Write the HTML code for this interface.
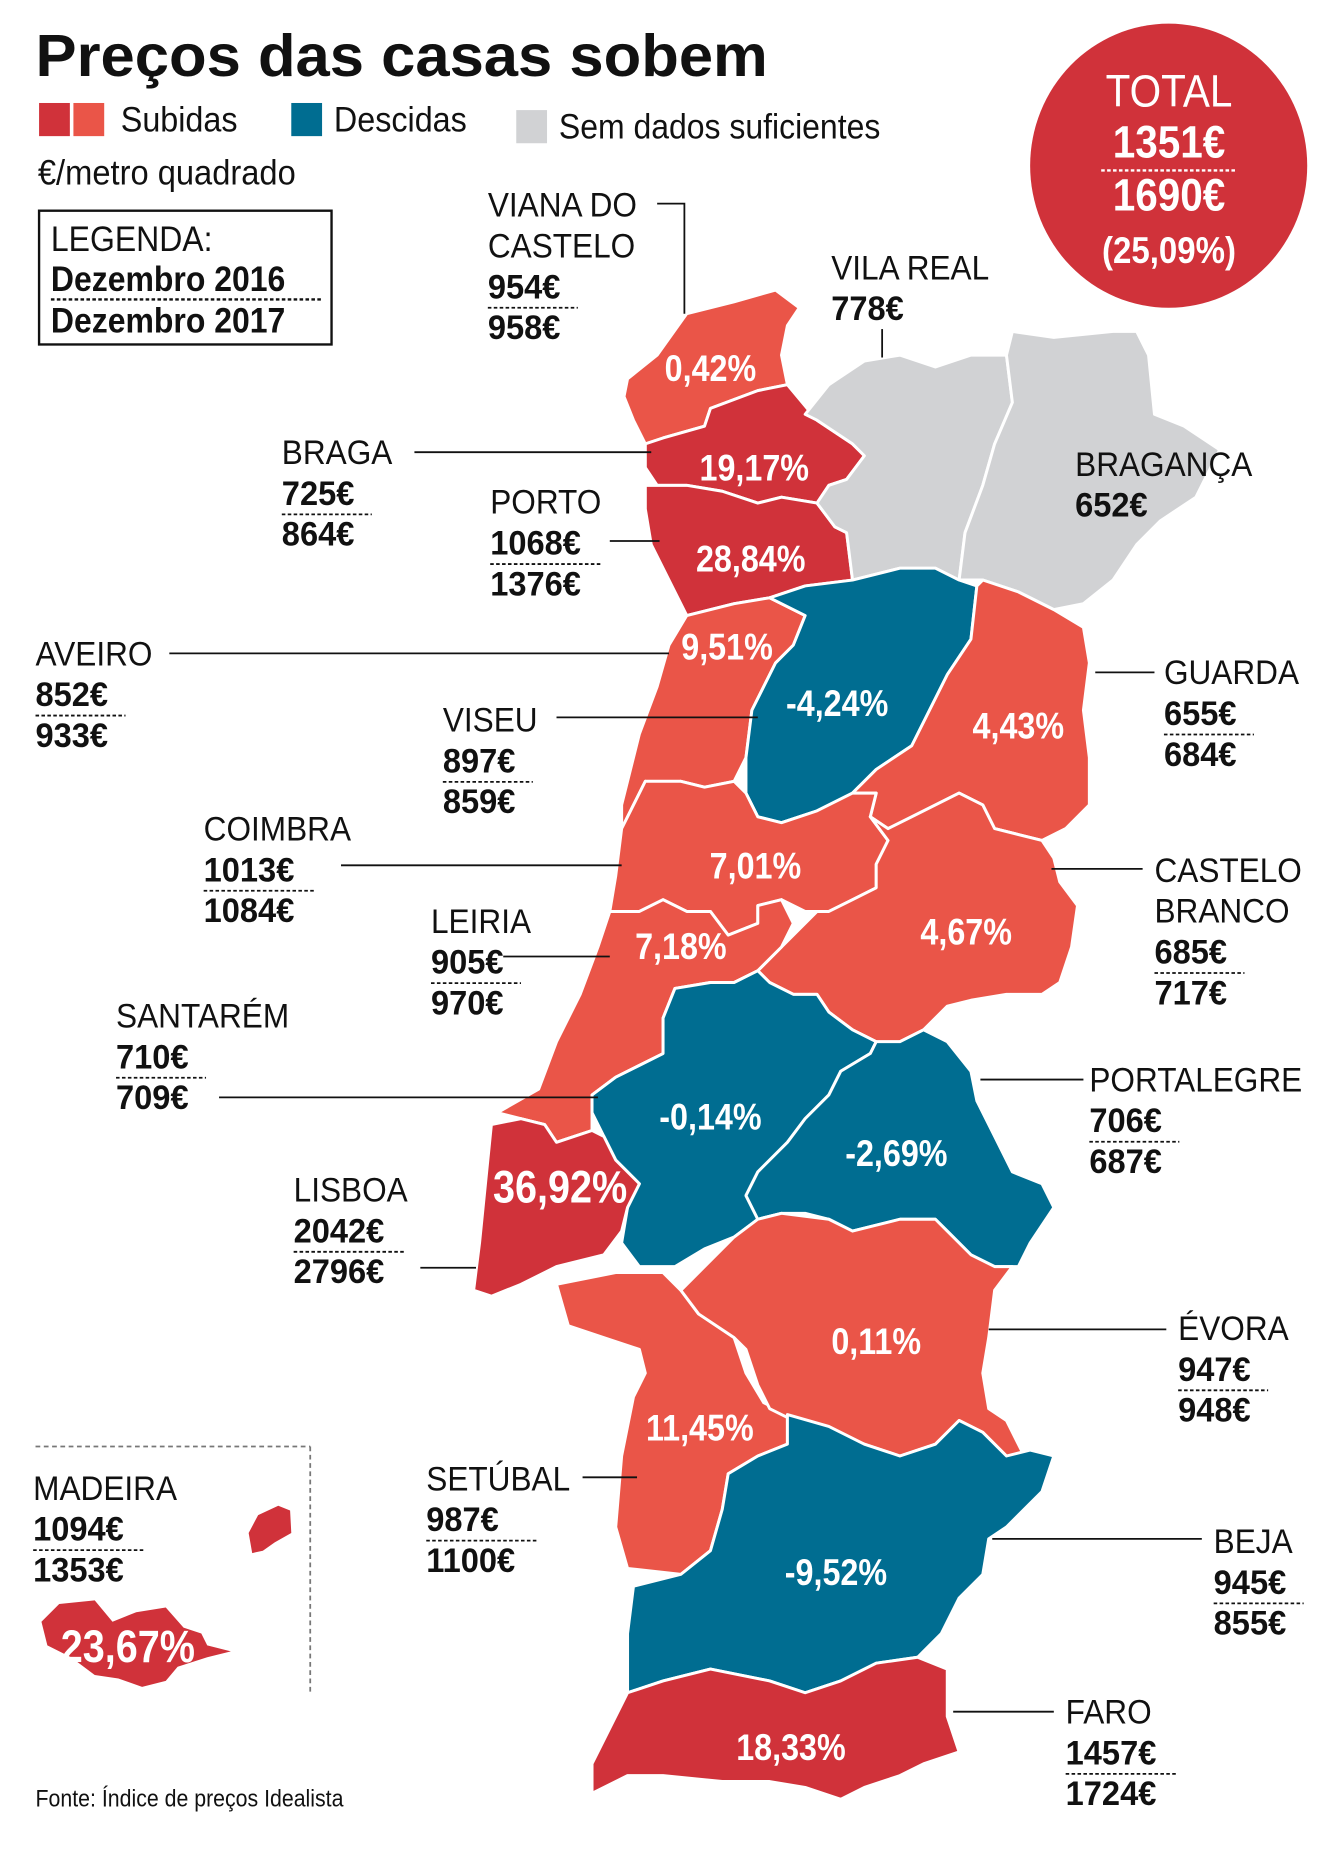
<!DOCTYPE html>
<html><head><meta charset="utf-8"><style>
html,body{margin:0;padding:0;background:#fff}
svg{display:block}
text{font-family:"Liberation Sans",sans-serif}
</style></head><body>
<svg id="chart" width="1338" height="1849" viewBox="0 0 1130 1562" preserveAspectRatio="none" xmlns="http://www.w3.org/2000/svg">
<text transform="translate(30,64) scale(1.04,1)" font-size="50" font-weight="bold" fill="#111">Preços das casas sobem</text>
<rect x="33" y="87" width="26" height="28" fill="#d0323a"/>
<rect x="62" y="87" width="26" height="28" fill="#ea5548"/>
<text transform="translate(102,111) scale(0.91,1)" font-size="30" fill="#111">Subidas</text>
<rect x="246" y="87" width="26" height="28" fill="#006d91"/>
<text transform="translate(282,111) scale(0.91,1)" font-size="30" fill="#111">Descidas</text>
<rect x="436" y="93" width="26" height="28" fill="#d1d2d4"/>
<text transform="translate(472,117) scale(0.9,1)" font-size="30" fill="#111">Sem dados suficientes</text>
<text transform="translate(32,156) scale(0.92,1)" font-size="30" fill="#111">€/metro quadrado</text>
<g>
<rect x="33" y="178" width="247" height="113" fill="none" stroke="#111" stroke-width="2"/>
<text transform="translate(43,212) scale(0.9,1)" font-size="30" fill="#111">LEGENDA:</text>
<text transform="translate(43,246) scale(0.9,1)" font-size="30" font-weight="bold" fill="#111">Dezembro 2016</text>
<line x1="43" y1="253" x2="272" y2="253" stroke="#111" stroke-width="2" stroke-dasharray="3,2"/>
<text transform="translate(43,281) scale(0.9,1)" font-size="30" font-weight="bold" fill="#111">Dezembro 2017</text>
</g>
<g>
<ellipse cx="987" cy="140" rx="117" ry="120" fill="#d0323a"/>
<text x="987" y="90" text-anchor="middle" font-size="38" fill="#fff" transform="translate(99,0) scale(0.9,1)">TOTAL</text>
<text x="987" y="133" text-anchor="middle" font-size="38" font-weight="bold" fill="#fff" transform="translate(99,0) scale(0.9,1)">1351€</text>
<line x1="930" y1="144" x2="1044" y2="144" stroke="#fff" stroke-width="2" stroke-dasharray="3,2"/>
<text x="987" y="178" text-anchor="middle" font-size="38" font-weight="bold" fill="#fff" transform="translate(99,0) scale(0.9,1)">1690€</text>
<text x="987" y="222" text-anchor="middle" font-size="31" font-weight="bold" fill="#fff" transform="translate(99,0) scale(0.9,1)">(25,09%)</text>
</g>
<g id="map" stroke="#fff" stroke-width="2.5" stroke-linejoin="round">
<polygon fill="#ea5548" points="530,320 555,300 580,265 620,255 655,245 675,260 665,275 660,300 665,325 640,330 600,345 595,360 560,370 545,375 535,355 527,335"/>
<polygon fill="#d0323a" points="600,345 640,330 665,325 690,355 720,375 730,385 715,405 700,410 690,425 660,420 640,425 610,415 580,410 555,410 545,395 545,375 560,370 595,360"/>
<polygon fill="#d0323a" points="545,410 580,410 610,415 640,425 660,420 690,425 705,445 715,450 720,490 680,495 650,505 620,510 580,520 570,500 550,460 545,430"/>
<polygon fill="#d1d2d4" points="680,350 700,325 730,305 760,300 790,310 820,300 850,300 855,340 840,375 830,410 815,450 810,490 790,480 760,480 720,490 715,450 705,445 690,425 700,410 715,405 730,385 720,375 690,355"/>
<polygon fill="#d1d2d4" points="850,300 855,280 890,285 940,280 960,280 970,300 975,350 1000,360 1030,380 1010,420 980,440 960,460 940,490 915,510 890,515 860,500 830,490 810,490 815,450 830,410 840,375 855,340"/>
<polygon fill="#ea5548" points="580,520 620,510 650,505 680,520 670,545 655,560 645,580 635,600 630,640 620,660 595,665 575,660 560,665 545,660 535,680 525,700 525,680 540,620 555,580 565,545"/>
<polygon fill="#006d91" points="650,505 680,495 720,490 760,480 790,480 810,490 825,495 820,540 800,570 785,600 770,630 740,650 720,670 690,685 660,695 640,690 630,670 630,640 635,600 645,580 655,560 670,545 680,520"/>
<polygon fill="#ea5548" points="825,495 830,490 860,500 890,515 915,530 920,560 915,600 920,640 920,680 900,700 880,710 860,705 840,700 830,680 810,670 790,680 770,690 750,700 735,690 740,670 720,670 740,650 770,630 785,600 800,570 820,540"/>
<polygon fill="#ea5548" points="525,700 535,680 545,660 575,660 595,665 620,660 630,670 640,690 660,695 690,685 720,670 740,670 735,690 750,710 740,730 740,750 720,760 700,770 680,770 660,760 640,765 640,780 615,790 600,770 580,770 560,760 540,770 515,770 520,740"/>
<polygon fill="#ea5548" points="735,690 750,700 770,690 790,680 810,670 830,680 840,700 860,705 880,710 890,725 895,745 910,765 905,800 895,830 880,840 850,840 820,845 800,850 780,870 760,880 740,880 720,870 700,855 690,840 670,840 650,830 640,820 660,800 690,770 700,770 720,760 740,750 740,730 750,710"/>
<polygon fill="#ea5548" points="515,770 540,770 560,760 580,770 600,770 615,790 640,780 640,765 660,760 670,780 660,800 640,820 620,830 600,830 570,835 560,860 560,890 540,900 520,910 500,925 500,955 470,965 460,950 440,945 420,940 455,920 470,880 490,840 505,800"/>
<polygon fill="#006d91" points="570,835 600,830 620,830 640,820 650,830 670,840 690,840 700,855 720,870 740,880 735,890 710,905 700,925 680,945 665,965 640,990 630,1010 640,1030 620,1045 595,1055 570,1070 540,1070 525,1050 530,1020 540,1000 520,980 510,960 500,940 500,925 520,910 540,900 560,890 560,860"/>
<polygon fill="#006d91" points="740,880 760,880 780,870 800,880 820,905 825,930 840,960 855,990 880,1000 890,1020 870,1050 860,1070 840,1070 820,1060 800,1040 790,1030 760,1030 720,1040 700,1030 680,1025 660,1025 640,1030 630,1010 640,990 665,965 680,945 700,925 710,905 735,890"/>
<polygon fill="#d0323a" points="415,950 440,945 460,950 470,965 500,955 510,960 520,980 540,1000 530,1020 525,1040 510,1060 490,1065 470,1070 440,1085 415,1095 400,1090 405,1050 410,1000"/>
<polygon fill="#ea5548" points="470,1085 520,1075 560,1075 575,1090 590,1110 620,1130 630,1160 645,1185 665,1195 665,1220 640,1230 615,1245 610,1275 600,1310 575,1330 530,1325 520,1290 525,1230 535,1180 545,1160 540,1140 510,1130 480,1120"/>
<polygon fill="#ea5548" points="575,1090 595,1070 620,1045 640,1030 660,1025 700,1030 720,1040 760,1030 790,1030 800,1040 820,1060 840,1070 855,1070 840,1090 835,1130 830,1160 835,1190 850,1200 865,1230 850,1230 830,1210 810,1200 790,1220 760,1230 730,1220 700,1210 670,1200 650,1190 640,1170 630,1140 620,1130 590,1110"/>
<polygon fill="#006d91" points="665,1195 700,1205 730,1220 760,1230 790,1220 810,1200 830,1210 850,1230 870,1225 890,1230 880,1260 860,1280 850,1290 835,1300 830,1330 810,1350 795,1380 775,1400 740,1405 710,1420 680,1430 650,1420 600,1410 560,1420 530,1430 530,1380 535,1340 575,1330 600,1310 610,1275 615,1245 640,1230 665,1220"/>
<polygon fill="#d0323a" points="530,1430 560,1420 600,1410 650,1420 680,1430 710,1420 740,1405 775,1400 800,1410 800,1450 810,1480 780,1490 760,1500 730,1510 710,1520 680,1510 650,1505 610,1505 560,1500 530,1500 500,1515 500,1490 515,1460"/>
<polygon fill="#d0323a" stroke="none" points="35,1370 50,1355 80,1352 95,1370 115,1362 140,1358 155,1375 170,1380 175,1390 195,1395 175,1400 150,1408 140,1420 120,1425 100,1418 80,1415 60,1400 40,1390"/>
<polygon fill="#d0323a" stroke="none" points="210,1295 218,1280 235,1272 245,1276 246,1295 232,1303 222,1310 213,1312"/>
</g>
<g stroke="#777" stroke-width="1.5" stroke-dasharray="4,3" fill="none">
<line x1="30" y1="1222" x2="262" y2="1222"/><line x1="262" y1="1222" x2="262" y2="1432"/>
</g>
<g id="leaders" stroke="#111" stroke-width="1.5" fill="none">
<polyline points="555,172 578,172 578,265"/><line x1="745" y1="278" x2="745" y2="302"/>
<line x1="350" y1="382" x2="550" y2="382"/><line x1="515" y1="457" x2="557" y2="457"/>
<line x1="143" y1="552" x2="565" y2="552"/><line x1="470" y1="606" x2="640" y2="606"/>
<line x1="925" y1="568" x2="975" y2="568"/><line x1="288" y1="731" x2="525" y2="731"/>
<line x1="888" y1="734" x2="965" y2="734"/><line x1="425" y1="808" x2="515" y2="808"/>
<line x1="185" y1="927" x2="505" y2="927"/><line x1="828" y1="912" x2="915" y2="912"/>
<line x1="355" y1="1071" x2="402" y2="1071"/><line x1="835" y1="1123" x2="985" y2="1123"/>
<line x1="492" y1="1248" x2="538" y2="1248"/><line x1="838" y1="1300" x2="1015" y2="1300"/>
<line x1="805" y1="1446" x2="890" y2="1446"/>
</g>
<g id="labels"></g>
<g id="pcts"></g>
<text transform="translate(30,1526) scale(0.9,1)" font-size="20" fill="#111">Fonte: Índice de preços Idealista</text>
</svg>
<script>
// data
const districtNames = [["VIANA DO","CASTELO"],["VILA REAL"],["BRAGANÇA"],["BRAGA"],["PORTO"],["AVEIRO"],["VISEU"],["GUARDA"],["COIMBRA"],["CASTELO","BRANCO"],["LEIRIA"],["SANTARÉM"],["PORTALEGRE"],["LISBOA"],["ÉVORA"],["SETÚBAL"],["BEJA"],["FARO"],["MADEIRA"]];
const price2016 = [954,778,652,725,1068,852,897,655,1013,685,905,710,706,2042,947,987,945,1457,1094];
const price2017 = [958,null,null,864,1376,933,859,684,1084,717,970,709,687,2796,948,1100,855,1724,1353];
const pctLabels = ["0,42%","19,17%","28,84%","9,51%","-4,24%","4,43%","7,01%","4,67%","7,18%","-0,14%","-2,69%","36,92%","0,11%","11,45%","-9,52%","18,33%","23,67%"];
// layout
const labelPos = [[412,183],[702,236],[908,402],[238,392],[414,434],[30,562],[374,618],[983,578],[172,710],[975,745],[364,788],[98,868],[920,922],[248,1015],[995,1132],[360,1259],[1025,1312],[900,1456],[28,1267]];
const pctPos = [[600,311],[637,395],[634,472],[614,546],[707,594],[860,613],[638,731],[816,787],[575,799],[600,943],[757,974],[473,1005],[740,1133],[591,1206],[706,1328],[668,1476],[108,1393]];
const NS="http://www.w3.org/2000/svg";
function txt(parent,x,y,s,size,bold,fill,anchor,sx){
  const t=document.createElementNS(NS,"text");
  t.setAttribute("transform","translate("+x+","+y+") scale("+(sx||0.92)+",1)");
  t.setAttribute("font-size",size);
  if(bold)t.setAttribute("font-weight","bold");
  t.setAttribute("fill",fill);
  if(anchor)t.setAttribute("text-anchor",anchor);
  t.textContent=s;parent.appendChild(t);return t;
}
const lg=document.getElementById("labels");
districtNames.forEach((lines,i)=>{
  const g=document.createElementNS(NS,"g");
  
  
  lg.appendChild(g);
  let [x,y]=labelPos[i];
  lines.forEach((l,k)=>{txt(g,x,y+k*34.5,l,29,false,"#111");});
  y+= lines.length*34.5;
  txt(g,x,y,price2016[i]+"€",29,true,"#111",null,0.95);
  if(price2017[i]!=null){
    const ln=document.createElementNS(NS,"line");
    ln.setAttribute("x1",x);ln.setAttribute("x2",x+String(price2017[i]).length*18+22);
    ln.setAttribute("y1",y+8);ln.setAttribute("y2",y+8);
    ln.setAttribute("stroke","#111");ln.setAttribute("stroke-width","1.5");ln.setAttribute("stroke-dasharray","3,2");
    g.appendChild(ln);
    txt(g,x,y+34.5,price2017[i]+"€",29,true,"#111",null,0.95);
  }
});
const pg=document.getElementById("pcts");
pctLabels.forEach((p,i)=>{
  const [x,y]=pctPos[i];
  const big=(i===11||i===16);
  const t=txt(pg,x,y+11,p,big?38:31,true,"#fff","middle",0.88);
  
  
});
</script>
</body></html>
